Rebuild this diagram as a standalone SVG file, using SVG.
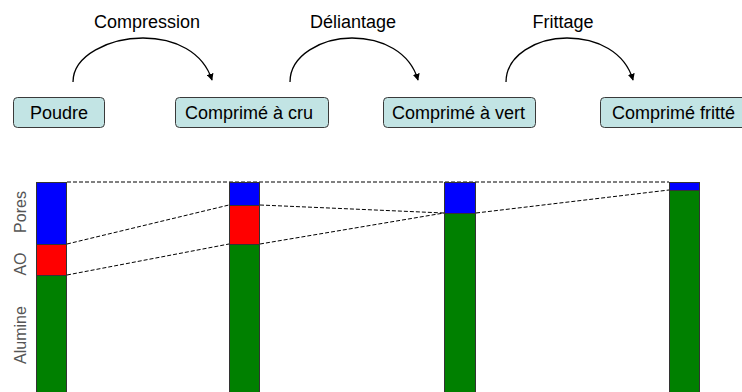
<svg xmlns="http://www.w3.org/2000/svg" width="742" height="392" viewBox="0 0 742 392">
<style>
.box{fill:#c2e4e4;stroke:#3a3a3a;stroke-width:1}
.bt{font-family:"Liberation Sans",Arial,sans-serif;font-size:18px;fill:#000}
.lbl{font-family:"Liberation Sans",Arial,sans-serif;font-size:18px;fill:#000;text-anchor:middle}
.side{font-family:"Liberation Sans",Arial,sans-serif;font-size:16px;fill:#555;text-anchor:middle}
.arc{fill:none;stroke:#000;stroke-width:1.3}
.dash{fill:none;stroke:#000;stroke-width:1;stroke-dasharray:4 2}
.seg{stroke:#333;stroke-width:1}
</style>
<defs>
<marker id="ah" viewBox="0 0 10 10" refX="9" refY="5" markerWidth="7" markerHeight="7" markerUnits="userSpaceOnUse" orient="auto">
<path d="M0,0 L10,5 L0,10 z" fill="#000"/>
</marker>
</defs>
<rect width="742" height="392" fill="#fff"/>
<g id="labels">
<text class="lbl" x="147" y="28">Compression</text>
<text class="lbl" x="353" y="28">Déliantage</text>
<text class="lbl" x="563" y="28">Frittage</text>
</g>
<g id="connectors">
<path class="arc" d="M73,82 C73,55 110,38 143,38 C175,38 203,52 212,80" marker-end="url(#ah)"/>
<path class="arc" d="M290,82 C290,55 322,38 352,38 C382,38 410,52 418,80" marker-end="url(#ah)"/>
<path class="arc" d="M506,82 C506,55 537,38 567,38 C597,38 625,52 633,80" marker-end="url(#ah)"/>
<path class="dash" d="M67,182 H669"/>
<path class="dash" d="M67,244 L229,205"/>
<path class="dash" d="M67,275 L229,244"/>
<path class="dash" d="M260,205 L444,213"/>
<path class="dash" d="M260,244 L444,213"/>
<path class="dash" d="M476,213 L669,190"/>
</g>
<g id="node-poudre">
<rect class="box" x="13.5" y="97.5" width="91" height="30" rx="4"/>
<text class="bt" x="30" y="119">Poudre</text>
</g>
<g id="node-cru">
<rect class="box" x="175.5" y="97.5" width="153" height="30" rx="4"/>
<text class="bt" x="185" y="119">Comprimé à cru</text>
</g>
<g id="node-vert">
<rect class="box" x="383.5" y="97.5" width="152" height="30" rx="4"/>
<text class="bt" x="392" y="119">Comprimé à vert</text>
</g>
<g id="node-fritte">
<rect class="box" x="600.5" y="97.5" width="160" height="30" rx="4"/>
<text class="bt" x="612" y="119">Comprimé fritté</text>
</g>
<g id="side-labels">
<text class="side" transform="translate(26,212) rotate(-90)">Pores</text>
<text class="side" transform="translate(26,264) rotate(-90)">AO</text>
<text class="side" transform="translate(26,335) rotate(-90)">Alumine</text>
</g>
<g id="bar1">
<rect class="seg" x="36.5" y="182.5" width="30" height="62" fill="#0000ff"/>
<rect class="seg" x="36.5" y="244.5" width="30" height="31" fill="#ff0000"/>
<rect class="seg" x="36.5" y="275.5" width="30" height="120" fill="#008000"/>
</g>
<g id="bar2">
<rect class="seg" x="229.5" y="182.5" width="30" height="23" fill="#0000ff"/>
<rect class="seg" x="229.5" y="205.5" width="30" height="39" fill="#ff0000"/>
<rect class="seg" x="229.5" y="244.5" width="30" height="150" fill="#008000"/>
</g>
<g id="bar3">
<rect class="seg" x="444.5" y="182.5" width="31" height="31" fill="#0000ff"/>
<rect class="seg" x="444.5" y="213.5" width="31" height="180" fill="#008000"/>
</g>
<g id="bar4">
<rect class="seg" x="669.5" y="182.5" width="30" height="8" fill="#0000ff"/>
<rect class="seg" x="669.5" y="190.5" width="30" height="205" fill="#008000"/>
</g>
</svg>
